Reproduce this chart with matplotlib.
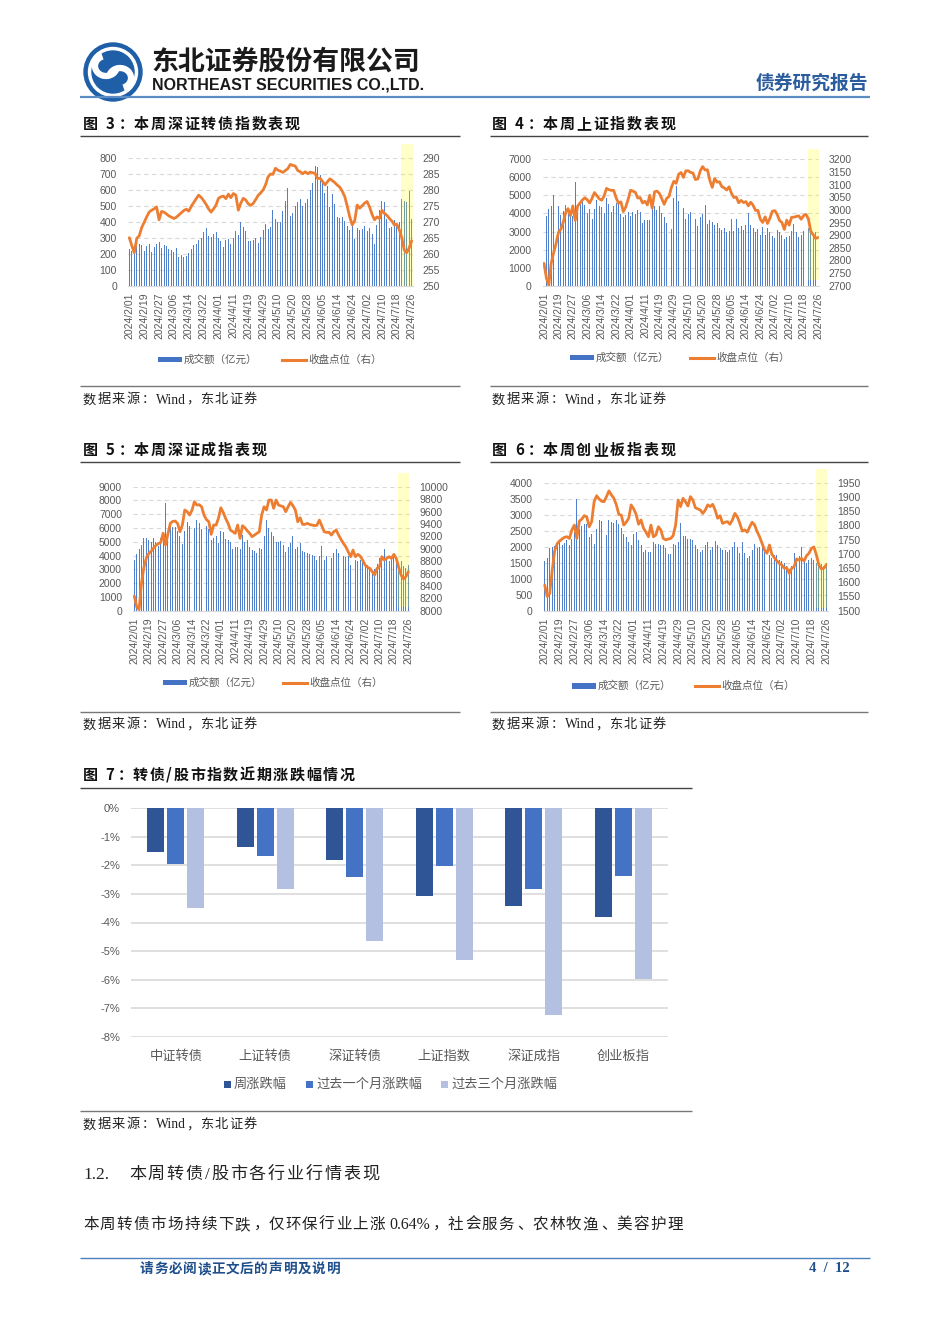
import numpy as np
import pandas as pd
import matplotlib
matplotlib.use('Agg')
import matplotlib.pyplot as plt
from matplotlib.patches import Rectangle, Circle, Arc
from matplotlib.lines import Line2D
from matplotlib.ticker import FuncFormatter

W, H = 950, 1344
CJK = 'Noto Sans CJK SC'
SANS = ['Liberation Sans', CJK]
SERIF = ['Liberation Serif', CJK]
plt.rcParams['font.family'] = [CJK, 'DejaVu Sans']

# ---------------- data ----------------
holidays = ['2024-02-09', '2024-02-12', '2024-02-13', '2024-02-14', '2024-02-15',
            '2024-02-16', '2024-04-04', '2024-04-05', '2024-05-01', '2024-05-02',
            '2024-05-03', '2024-06-10']
trade_days = pd.bdate_range('2024-02-01', '2024-07-26').difference(pd.to_datetime(holidays))
date_labels = [f"{d.year}/{d.month}/{d.day:02d}" for d in trade_days]

# 图3 深证转债指数
szcb_vol = [232, 215, 205, 250, 262, 255, 215, 245, 258, 212, 242, 262, 272, 238, 252,
            245, 232, 222, 212, 235, 182, 192, 178, 186, 205, 232, 255, 262, 285, 300, 335, 360, 310, 305, 320, 335,
            300, 282, 240, 285, 290, 262, 295, 340, 315, 395, 365, 340, 282, 278, 285, 300, 265, 305, 345, 385,
            355, 365, 470, 415, 395, 400, 465, 530, 610, 435, 455, 500, 520, 540, 500, 515, 540, 600, 640, 750,
            740, 690, 650, 580, 620, 490, 575, 510, 430, 420, 430, 405, 370, 345, 380, 290, 360, 345, 355,
            370, 340, 360, 325, 262, 380, 470, 530, 525, 415, 360, 365, 410, 380, 400, 540, 530, 525, 590, 415]
szcb_close = [265.0, 262.5, 260.3, 264.8, 265.6, 268.2, 269.8, 271.5, 273.0, 273.6, 274.0, 274.6, 270.6, 273.2, 273.0,
              272.4, 271.8, 271.4, 271.0, 271.4, 272.1, 272.8, 273.5, 273.9, 273.3, 274.8, 276.0, 277.2, 278.3, 277.6,
              276.6, 275.4, 274.0, 273.0, 274.0, 275.2,
              277.3, 277.8, 278.0, 277.2, 278.6, 277.5, 278.8, 278.3, 273.6, 275.8, 277.3, 276.8, 275.6, 275.1, 275.7,
              276.9, 278.2, 279.0, 279.9, 281.5,
              284.0, 284.9, 284.8, 286.7, 286.1, 285.8, 285.4, 286.0, 286.6, 287.9, 287.6, 287.4, 286.0, 285.6, 285.0,
              285.6, 285.0, 285.5, 285.3, 285.1,
              283.5, 283.6, 282.6, 281.5, 282.5, 283.4, 282.8, 282.2, 281.4, 280.8, 279.5, 277.8, 274.8, 271.5, 269.0,
              270.3, 275.2, 274.2, 275.0,
              275.8, 276.3, 274.6, 272.3, 270.6, 271.5, 271.0, 273.6, 272.6, 272.0, 271.0, 270.2, 269.0, 269.2, 267.5,
              265.0, 261.2, 260.3, 261.8, 264.0]

# 图4 上证指数
sh_vol = [3380, 3880, 4220, 4420, 5000, 4820, 4420, 3900, 4150, 4480, 3950, 4050, 3860, 5760, 4150,
          4580, 4620, 4450, 4050, 4250, 3700, 4250, 4760, 4400, 4350, 4050, 4880, 4500, 4080, 4400, 4580, 4530, 3980, 3780, 3900, 4060,
          3880, 4100, 3950, 4200, 4100, 3480, 3650, 3640, 3620, 4550, 4400, 4200, 4400, 4000, 3800, 3480, 3380, 3150, 4850, 5500,
          4700, 5100, 4280, 3680, 3980, 4080, 4250, 3700, 3300, 3800, 3950, 4480, 3420, 3620, 3550, 3380, 3450, 3200, 3100, 3200,
          3000, 3050, 3680, 3050, 3720, 3180, 3300, 3100, 3350, 4000, 3380, 3200, 3000, 3150, 2800, 3250, 2800, 3200, 3000,
          2750, 2650, 3100, 2950, 2800, 2600, 2700, 2750, 3050, 3400, 3000, 2700, 2800, 3050, 3000, 3200, 3000, 2850, 3000, 2950]
sh_close = [2788.6, 2730.2, 2702.2, 2789.5, 2829.7, 2865.9, 2910.5, 2922.7, 2950.9, 2988.4, 3004.9, 2977.0, 3015.5, 2957.9, 3015.2,
            3027.0, 3039.3, 3047.8, 3039.9, 3027.4, 3046.0, 3068.5, 3055.9, 3043.8, 3038.2, 3054.6, 3084.9, 3079.7, 3077.1,
            3077.1, 3048.0, 3026.3, 3031.5, 2993.1, 3011.0, 3041.2,
            3077.4, 3074.2, 3069.3, 3047.0, 3048.5, 3027.3, 3034.2, 3019.5, 3057.4, 3007.1, 3071.4, 3074.2, 3065.3, 3044.6,
            3021.9, 3044.8, 3052.9, 3088.6, 3113.0, 3104.8,
            3140.7, 3147.7, 3128.5, 3154.3, 3154.6, 3148.0, 3145.8, 3119.9, 3122.4, 3154.0, 3171.2, 3157.9, 3158.5, 3116.4,
            3088.9, 3124.0, 3109.6, 3111.0, 3091.7, 3086.8,
            3078.5, 3091.2, 3065.4, 3048.8, 3051.3, 3028.1, 3037.5, 3028.9, 3032.6, 3015.9, 3030.2, 3018.1, 2998.1, 2998.1,
            2963.1, 2950.0, 2972.5, 2946.0, 2967.4,
            2994.7, 2997.0, 2982.4, 2957.6, 2949.9, 2922.5, 2959.4, 2939.4, 2970.4, 2971.3, 2974.0, 2976.3, 2962.9, 2977.1,
            2982.3, 2964.2, 2915.4, 2901.9, 2886.7, 2890.9]

# 图5 深证成指
szc_vol = [3650, 4100, 4500, 4800, 5250, 5300, 5100, 5000, 5300, 5000, 4700, 5250, 5600, 7800, 5700,
           6200, 6100, 6100, 5800, 5400, 4850, 5750, 6450, 6150, 5400, 6000, 6550, 6350, 5950, 6400, 6150, 5950, 5100, 5300, 5400, 4900,
           5750, 5700, 5200, 5100, 5000, 4500, 4650, 4600, 4450, 5500, 5000, 5100, 4600, 4400, 4300, 4200, 4550, 4500, 5400, 6550,
           6000, 5700, 5400, 5000, 5000, 5050, 4800, 4250, 4650, 4900, 5450, 4500, 4600, 4900, 4300, 4250, 4200, 4150, 4050, 4000,
           3700, 4000, 4700, 3700, 4000, 3700, 3850, 4200, 4500, 4200, 4050, 4000, 3900, 3950, 3350, 3550, 3700, 3600, 3650,
           3500, 3200, 3300, 3100, 2950, 3050, 3400, 3800, 4000, 4500, 3700, 3600, 3800, 3900, 3500, 3400, 3600, 3250, 3100, 3300]
szc_close = [8237, 8060, 8020, 8450, 8700, 8850, 8920, 8960, 9010, 9055, 9080, 9100, 9250, 9060, 9240,
             9410, 9440, 9446, 9409, 9274, 9382, 9624, 9597, 9543, 9620, 9758, 9704, 9710, 9677, 9543, 9470, 9435, 9231,
             9382, 9380, 9489,
             9661, 9586, 9489, 9409, 9301, 9274, 9247, 9382, 9167, 9371, 9339, 9290, 9247, 9194, 9220, 9247, 9274, 9543,
             9677, 9624,
             9785, 9785, 9651, 9785, 9704, 9690, 9677, 9597, 9677, 9747, 9694, 9624, 9435, 9500, 9392, 9392, 9409, 9390,
             9382, 9371,
             9380, 9462, 9371, 9274, 9263, 9265, 9220, 9274, 9301, 9220, 9150, 9086, 9032, 8950, 8871, 8978, 8871, 8909, 8880,
             8817, 8737, 8700, 8683, 8629, 8575, 8683, 8710, 8871, 8817, 8844, 8871, 8844, 8909, 8844, 8700, 8575, 8511,
             8548, 8629]

# 图6 创业板指
cyb_vol = [1550, 1650, 1960, 1990, 2020, 2120, 2170, 2060, 2110, 2210, 2050, 2250, 2450, 3480, 2550,
           2650, 2700, 2700, 2300, 2400, 2080, 2550, 2830, 2800, 2500, 2380, 2850, 2780, 2750, 2850, 2700, 2600, 2400, 2300, 2150, 2050,
           2400, 2450, 2200, 2050, 1850, 1900, 1820, 1850, 2150, 2100, 2080, 2050, 2050, 1950, 1780, 1780, 2100, 2050, 2150, 2750,
           2350, 2350, 2250, 2250, 2200, 2050, 1920, 1850, 1900, 2050, 2150, 1900, 2000, 2180, 2050, 1950, 1900, 1900, 1850, 1900,
           2000, 2150, 2000, 1800, 2150, 1800, 1650, 1700, 1900, 2100, 1950, 2000, 2000, 1950, 1600, 1750, 1650, 1750, 1750,
           1600, 1550, 1500, 1400, 1300, 1400, 1800, 1650, 1700, 2000, 1550, 1500, 1600, 1650, 1600, 1500, 1550, 1450, 1400, 1500]
cyb_close = [1590, 1550, 1560, 1640, 1710, 1735, 1745, 1752, 1758, 1760, 1754, 1784, 1801, 1754, 1815,
             1822, 1834, 1830, 1795, 1813, 1883, 1904, 1893, 1885, 1883, 1901, 1921, 1907, 1895, 1872, 1839, 1836, 1801,
             1811, 1825, 1872,
             1858, 1839, 1804, 1819, 1790, 1776, 1760, 1801, 1760, 1766, 1795, 1784, 1754, 1749, 1752, 1754, 1764, 1801,
             1889, 1866,
             1895, 1883, 1868, 1901, 1889, 1862, 1858, 1854, 1842, 1854, 1872, 1866, 1874, 1854, 1825, 1834, 1807, 1811,
             1813, 1804,
             1819, 1842, 1830, 1807, 1780, 1784, 1776, 1795, 1811, 1801, 1778, 1760, 1737, 1713, 1702, 1731, 1698, 1686, 1675,
             1666, 1661, 1649, 1651, 1631, 1649, 1655, 1682, 1678, 1684, 1675, 1693, 1702, 1719, 1724, 1696, 1661, 1647,
             1649, 1661]

for arr in (szcb_vol, szcb_close, sh_vol, sh_close, szc_vol, szc_close, cyb_vol, cyb_close):
    assert len(arr) == len(date_labels), len(arr)

# 图7
categories = ['中证转债', '上证转债', '深证转债', '上证指数', '深证成指', '创业板指']
week_chg = [-1.53, -1.37, -1.83, -3.06, -3.43, -3.82]
month_chg = [-1.94, -1.66, -2.42, -2.01, -2.84, -2.37]
quarter_chg = [-3.48, -2.84, -4.63, -5.31, -7.22, -5.98]
series_names = ['周涨跌幅', '过去一个月涨跌幅', '过去三个月涨跌幅']

# ---------------- styles ----------------
BLUE = '#4472C4'
BAR_BLUE = '#5080CC'
ORANGE = '#ED7D31'
GRAY_T = '#595959'
GRID = '#D9D9D9'

fig = plt.figure(figsize=(W / 100, H / 100), dpi=100)
bg = fig.add_axes([0, 0, 1, 1])
bg.set_xlim(0, W)
bg.set_ylim(H, 0)
bg.axis('off')
renderer = fig.canvas.get_renderer()


def px_rect(x0, y0, x1, y1):
    return [x0 / W, 1 - y1 / H, (x1 - x0) / W, (y1 - y0) / H]


def hline(y, x0, x1, color, lw):
    bg.add_line(Line2D([x0, x1], [y, y], color=color, lw=lw, solid_capstyle='butt'))


def spaced(x, y, s, spacing, fontsize, **kw):
    """Draw text char by char with extra letter spacing (pixels); returns end x."""
    cx = x
    em = fontsize * 100 / 72
    for ch in s:
        if ch == ' ':
            cx += em * 0.3 + spacing
            continue
        if ord(ch) >= 0x2E80:
            if ch in '：，、':
                bg.text(cx + em * 0.12, y, ch, ha='left', va='center', fontsize=fontsize, **kw)
            else:
                bg.text(cx + em / 2, y, ch, ha='center', va='center', fontsize=fontsize, **kw)
            cx += em + spacing
        else:
            t = bg.text(cx, y, ch, ha='left', va='center', fontsize=fontsize, **kw)
            cx += t.get_window_extent(renderer).width + spacing
    return cx


def plain(x, y, s, fontsize, **kw):
    """Draw a run of text and return its end x."""
    t = bg.text(x, y, s, ha='left', va='center', fontsize=fontsize, **kw)
    return x + t.get_window_extent(renderer).width


# ---------------- header ----------------
LOGO = '#1F5FA8'
bg.add_patch(Circle((113, 72), 29, color=LOGO))
bg.add_patch(Circle((113, 72), 24.5, color='white'))
bg.add_patch(Circle((113, 72), 21, color=LOGO))
bg.add_patch(Arc((106, 66), 22, 20, theta1=20, theta2=250, color='white', lw=4.5))
bg.add_patch(Arc((120, 78), 22, 20, theta1=200, theta2=430, color='white', lw=4.5))
bg.text(151, 62, '东北证券股份有限公司', fontsize=19.4, fontweight='bold', color='#1a1a1a',
        ha='left', va='center', family=[CJK])
bg.text(152, 84.5, 'NORTHEAST SECURITIES CO.,LTD.', fontsize=11.5, fontweight='bold', color='#1a1a1a',
        ha='left', va='center', family=SANS)
bg.text(868, 83.5, '债券研究报告', fontsize=13.5, fontweight='bold', color='#2B5C9E', ha='right',
        va='center', family=[CJK])
hline(96.5, 80, 870, '#5B8CC4', 1.6)


# ---------------- combo charts ----------------
def combo(box, vol, close, lmax, lstep, rmin, rmax, rstep, span_y):
    ax = fig.add_axes(px_rect(*box))
    x = np.arange(len(vol))
    ax.bar(x, vol, width=0.4, color=BAR_BLUE, zorder=2, linewidth=0)
    ax.set_xlim(-0.5, len(vol) - 0.5)
    ax.set_ylim(0, lmax)
    ax.set_yticks(np.arange(0, lmax + 1, lstep))
    ax.yaxis.grid(True, color=GRID, linestyle=(0, (4, 3)), linewidth=0.8)
    ax.set_axisbelow(True)
    for s in ax.spines.values():
        s.set_visible(False)
    ax.spines['bottom'].set_visible(True)
    ax.spines['bottom'].set_color(GRID)
    ax.spines['bottom'].set_linewidth(0.8)
    ax.tick_params(axis='both', length=0, labelsize=7.5, labelcolor=GRAY_T)
    ax.tick_params(axis='y', pad=8)
    ax.tick_params(axis='x', pad=5)
    ticks = x[::6]
    ax.set_xticks(ticks)
    ax.set_xticklabels([date_labels[i] for i in ticks], rotation=90, family=SANS)
    for lab in ax.get_yticklabels():
        lab.set_family(SANS)
    ax.axvspan(109.7, 114.45, ymin=span_y[0], ymax=span_y[1], color='#FFFF00', alpha=0.22,
               lw=0, zorder=3, clip_on=False)
    ax2 = ax.twinx()
    ax2.plot(x, close, color=ORANGE, lw=2.0, solid_joinstyle='round', solid_capstyle='round')
    ax2.set_ylim(rmin, rmax)
    ax2.set_yticks(np.arange(rmin, rmax + 0.1, rstep))
    for s in ax2.spines.values():
        s.set_visible(False)
    ax2.tick_params(axis='y', length=0, labelsize=7.5, labelcolor=GRAY_T, pad=7)
    for lab in ax2.get_yticklabels():
        lab.set_family(SANS)
    return ax


def legend_combo(xr, xl, y):
    bg.add_patch(Rectangle((xr, y - 2.8), 24, 5.6, color=BLUE, lw=0))
    bg.text(xr + 26, y, '成交额（亿元）', fontsize=7.6, color=GRAY_T, ha='left', va='center')
    bg.add_line(Line2D([xl, xl + 24], [y, y], color=ORANGE, lw=2.2))
    bg.text(xl + 26, y, '收盘点位（右）', fontsize=7.6, color=GRAY_T, ha='left', va='center')


def title(x, y, s, spacing=1.8):
    spaced(x, y, s, spacing, 10.8, fontweight='bold', color='#111111', family=[CJK])


def source(x, y):
    kw = dict(color='#222222', family=SERIF)
    e = spaced(x, y, '数据来源', 1.2, 9.5, **kw)
    e = plain(e + 1.5, y, '：', 9.5, **kw)
    e = plain(e + 0.5, y, 'Wind', 9.8, **kw)
    e = plain(e + 0.5, y, '，', 9.5, **kw)
    spaced(e + 1, y, '东北证券', 1.2, 9.5, **kw)


# 图3
title(83, 124, '图 3：本周深证转债指数表现')
hline(135.5, 80, 460, '#444444', 1.0)
combo((128.1, 157.7, 412.9, 285.7), szcb_vol, szcb_close, 800, 100, 250, 290, 5, (0.0, 1.107))
legend_combo(158, 282, 359.5)
hline(385.5, 80, 460, '#777777', 1.0)
source(83, 400)

# 图4
title(492, 124, '图 4：本周上证指数表现')
hline(135.5, 490, 868, '#444444', 1.0)
combo((542.8, 159.3, 819.2, 285.7), sh_vol, sh_close, 7000, 1000, 2700, 3200, 50, (0.045, 1.08))
legend_combo(570, 690, 357.5)
hline(385.5, 490, 868, '#777777', 1.0)
source(492, 400)

# 图5
title(83, 450, '图 5：本周深证成指表现')
hline(462, 80, 460, '#444444', 1.0)
combo((133.1, 486.7, 409.5, 610.7), szc_vol, szc_close, 9000, 1000, 8000, 10000, 200, (0.03, 1.11))
legend_combo(163, 283, 682.5)
hline(712, 80, 460, '#777777', 1.0)
source(83, 725)

# 图6
title(492, 450, '图 6：本周创业板指表现')
hline(462, 490, 868, '#444444', 1.0)
combo((543.5, 482.7, 827.5, 610.7), cyb_vol, cyb_close, 4000, 500, 1500, 1950, 50, (0.02, 1.11))
legend_combo(572, 695, 686)
hline(712, 490, 868, '#777777', 1.0)
source(492, 725)

# ---------------- 图7 ----------------
title(83, 775, '图 7：转债/股市指数近期涨跌幅情况', spacing=1.6)
hline(787.5, 80, 692, '#444444', 1.0)
ax7 = fig.add_axes(px_rect(131, 808, 668, 1037))
bar_colors = ['#2F5597', '#4472C4', '#B4C0E1']
xc = np.arange(len(categories))
step, bw = 0.2236, 0.19
for k, vals in enumerate([week_chg, month_chg, quarter_chg]):
    ax7.bar(xc + (k - 1) * step, vals, width=bw, color=bar_colors[k], zorder=2, linewidth=0)
ax7.set_xlim(-0.5, len(categories) - 0.5)
ax7.set_ylim(-8, 0)
ax7.set_yticks(np.arange(-8, 0.1, 1))
ax7.yaxis.set_major_formatter(FuncFormatter(lambda v, p: f'{int(round(v))}%'))
ax7.yaxis.grid(True, color=GRID, linewidth=1.2)
ax7.set_axisbelow(True)
for s in ax7.spines.values():
    s.set_visible(False)
ax7.set_xticks(xc)
ax7.set_xticklabels(categories, fontsize=9.5, color=GRAY_T)
ax7.tick_params(axis='both', length=0)
ax7.tick_params(axis='x', pad=9)
ax7.tick_params(axis='y', labelsize=8, labelcolor=GRAY_T, pad=8)
for lab in ax7.get_yticklabels():
    lab.set_family(SANS)

leg_x = [224, 306, 441]
for k, name in enumerate(series_names):
    bg.add_patch(Rectangle((leg_x[k], 1080.5), 7, 7, color=bar_colors[k], lw=0))
    bg.text(leg_x[k] + 10, 1084, name, fontsize=9.5, color=GRAY_T, ha='left', va='center')
hline(1110.5, 80, 692, '#777777', 1.0)
source(83, 1125)

# ---------------- text body ----------------
bg.text(83, 1175, '1.2.', fontsize=12.5, color='#222222', ha='left', va='center', family=SERIF)
spaced(129, 1175, '本周转债/股市各行业行情表现', 1.8, 12.3, color='#222222', family=SERIF)
e = spaced(83, 1225, '本周转债市场持续下跌，仅环保行业上涨', 1.3, 11.2, color='#222222', family=SERIF)
e = plain(e + 3, 1225, '0.64%', 11.4, color='#222222', family=SERIF)
spaced(e + 1, 1225, '，社会服务、农林牧渔、美容护理', 1.3, 11.2, color='#222222', family=SERIF)

# ---------------- footer ----------------
hline(1258, 80, 870, '#4F81BD', 1.0)
spaced(140, 1269, '请务必阅读正文后的声明及说明', 0.7, 9.8, fontweight='bold', color='#1F4E8C', family=[CJK])
bg.text(850, 1269, '4  /  12', fontsize=10.5, fontweight='bold', color='#1F4E8C', ha='right', va='center',
        family=SERIF)

fig.savefig('out.png', dpi=100)
